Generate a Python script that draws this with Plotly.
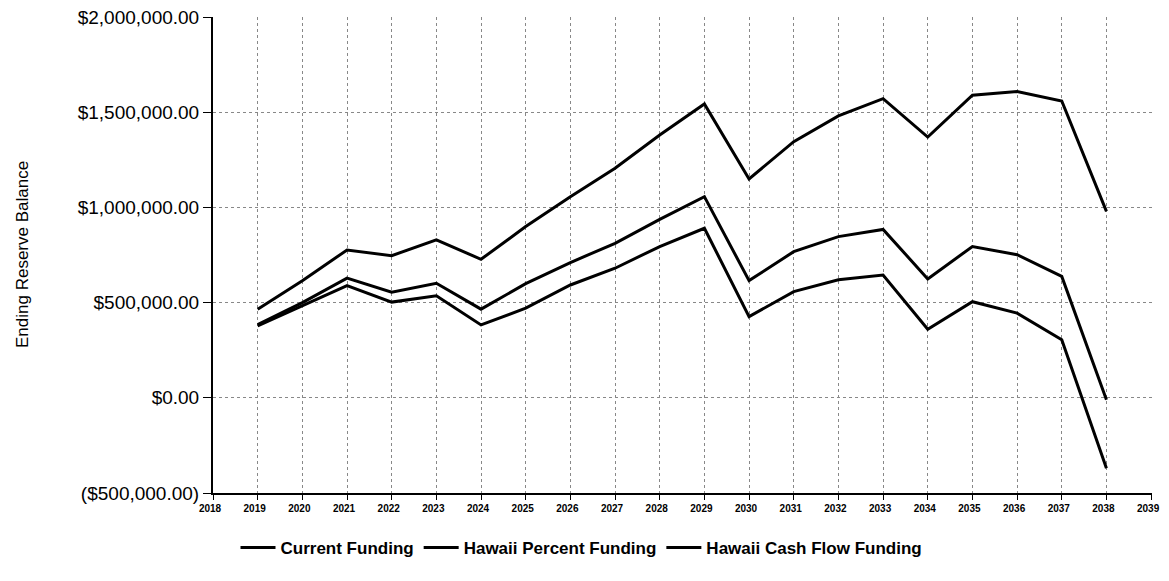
import plotly.graph_objects as go

years = list(range(2019, 2039))

current_funding = [378000, 485000, 590000, 503000, 536000, 383000, 471000, 593000, 681000, 795000,
                   891000, 427000, 558000, 620000, 645000, 360000, 505000, 445000, 305000, -370000]
hawaii_percent = [466000, 615000, 777000, 747000, 830000, 728000, 900000, 1057000, 1206000, 1381000,
                  1544000, 1150000, 1346000, 1481000, 1572000, 1370000, 1590000, 1610000, 1560000, 980000]
hawaii_cash_flow = [385000, 500000, 629000, 555000, 602000, 466000, 600000, 711000, 812000, 938000,
                    1057000, 616000, 768000, 847000, 885000, 625000, 795000, 752000, 638000, -10000]

series_names = ["Current Funding", "Hawaii Percent Funding", "Hawaii Cash Flow Funding"]

y_tick_vals = [-500000, 0, 500000, 1000000, 1500000, 2000000]
y_tick_text = ["($500,000.00)", "$0.00", "$500,000.00", "$1,000,000.00", "$1,500,000.00", "$2,000,000.00"]
x_tick_vals = list(range(2018, 2040))
x_tick_text = [str(v) for v in x_tick_vals]

FONT = "Liberation Sans, Arial, sans-serif"

fig = go.Figure()
for name, vals in zip(series_names, [current_funding, hawaii_percent, hawaii_cash_flow]):
    fig.add_trace(go.Scatter(x=years, y=vals, mode="lines", name=name,
                             line=dict(color="black", width=3)))

# page has an 8px body margin; size the figure so the page is exactly 1169x581
OFF = 8
W, H = 1169 - 2 * OFF, 581 - 2 * OFF
L = 213 - OFF
T = 17 - OFF
plot_right = 1152 - OFF
plot_bottom = 493 - OFF
R = W - plot_right
B = H - plot_bottom
pw = plot_right - L
ph = plot_bottom - T

fig.update_layout(
    template="none",
    width=W, height=H,
    margin=dict(l=L, r=R, t=T, b=B, pad=0, autoexpand=False),
    paper_bgcolor="white", plot_bgcolor="white",
    font=dict(family=FONT, color="black"),
    showlegend=True,
    legend=dict(orientation="h", x=(581.5 - OFF - L) / pw, xanchor="center",
                y=-(548 - OFF - plot_bottom) / ph, yanchor="middle",
                font=dict(size=17, color="black", weight="bold"), traceorder="normal",
                itemwidth=35, bgcolor="rgba(0,0,0,0)"),
    xaxis=dict(range=[2018, 2039.02], tickvals=x_tick_vals, ticktext=x_tick_text,
               showgrid=True, gridcolor="#888888", griddash="dot", gridwidth=1,
               showline=True, linecolor="black", linewidth=2,
               ticks="outside", ticklen=5, tickcolor="black", tickwidth=1,
               tickfont=dict(size=10, color="black", weight="bold"),
               ticklabeloverflow="allow", ticklabelshift=-3,
               zeroline=False, automargin=False),
    yaxis=dict(range=[-500000, 2001000], tickvals=y_tick_vals, ticktext=y_tick_text,
               showgrid=True, gridcolor="#888888", griddash="dot", gridwidth=1,
               showline=True, linecolor="black", linewidth=2,
               ticks="outside", ticklen=8, tickcolor="black", tickwidth=1,
               tickfont=dict(size=19, color="black"),
               ticklabeloverflow="allow",
               zeroline=False, automargin=False),
    annotations=[dict(text="Ending Reserve Balance", textangle=-90, xref="paper", yref="paper",
                      x=(22 - OFF - L) / pw, y=(plot_bottom - (255 - OFF)) / ph,
                      xanchor="center", yanchor="middle",
                      showarrow=False, font=dict(size=17, color="black"))],
)

fig.write_html("out.html")
